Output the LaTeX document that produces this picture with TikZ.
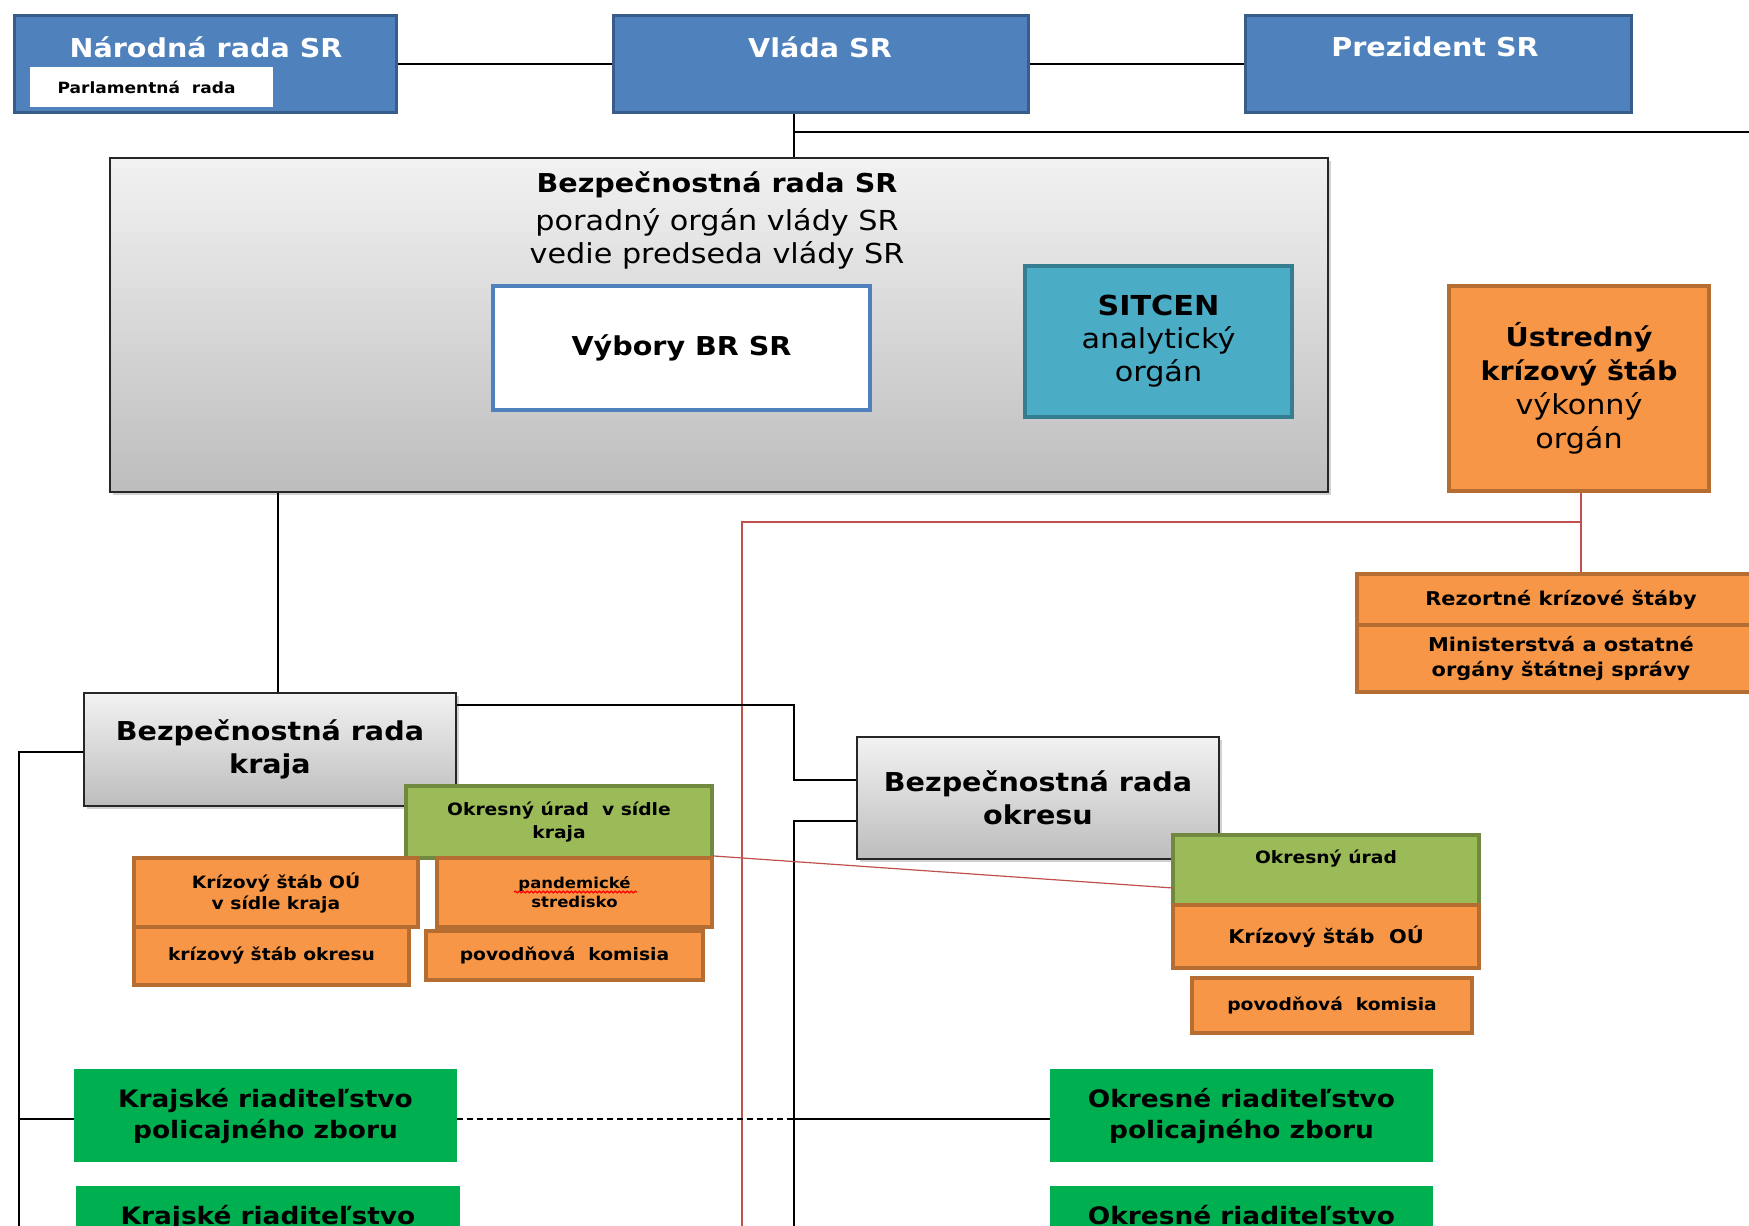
\documentclass[tikz,border=0pt]{standalone}
\usepackage{fontspec}
\setmainfont{DejaVu Sans}[FakeStretch=1.1]
\usetikzlibrary{shadows,decorations.pathmorphing}
\definecolor{blueF}{HTML}{4F81BD}
\definecolor{blueD}{HTML}{385D8A}
\definecolor{grayT}{HTML}{F2F2F2}
\definecolor{grayB}{HTML}{BDBDBD}
\definecolor{grayD}{HTML}{262626}
\definecolor{cyanF}{HTML}{4BACC6}
\definecolor{cyanD}{HTML}{357D91}
\definecolor{orngF}{HTML}{F79646}
\definecolor{orngD}{HTML}{B66D31}
\definecolor{olivF}{HTML}{9BBB59}
\definecolor{olivD}{HTML}{71893F}
\definecolor{polG}{HTML}{00B050}
\definecolor{redL}{HTML}{C0504D}
\begin{document}
\begin{tikzpicture}[x=1pt,y=-1pt,
  box/.style={rectangle, inner sep=0pt, align=center},
  bluebox/.style={box, fill=blueF, draw=blueD, line width=3pt},
  graybox/.style={box, draw=grayD, line width=2.5pt, top color=grayT, bottom color=grayB,
     drop shadow={opacity=0.35, shadow xshift=3pt, shadow yshift=-3pt}},
  orangebox/.style={box, fill=orngF, draw=orngD, line width=4pt},
  olivebox/.style={box, fill=olivF, draw=olivD, line width=4pt},
  cyanbox/.style={box, fill=cyanF, draw=cyanD, line width=4pt},
  policebox/.style={box, fill=polG},
  big/.style={font=\fontsize{27.5}{33}\selectfont},
  bigb/.style={font=\bfseries\fontsize{26}{33}\selectfont},
  small/.style={font=\bfseries\fontsize{17}{21}\selectfont},
  conn/.style={line width=2pt, black},
  redconn/.style={line width=1.5pt, redL}
]
\useasboundingbox (0,0) rectangle (1749,1226);
\clip (0,0) rectangle (1749,1226);
\fill[white] (0,0) rectangle (1749,1226);

% top row
\node[bluebox, minimum width=382pt, minimum height=97pt] (nr) at (205,64) {};
\node[text=white, bigb] (nrt) at (206,47) {Národná rada SR};
\node[box, fill=white, minimum width=243pt, minimum height=40pt] (parl) at (151.5,87) {};
\node[anchor=west, font=\bfseries\fontsize{15.5}{17}\selectfont] (parlt) at (54,87) {Parlamentná\ \ rada};
\node[bluebox, minimum width=415pt, minimum height=97pt] (vlada) at (820.5,64) {};
\node[text=white, bigb] (vladat) at (820,47) {Vláda SR};
\node[bluebox, minimum width=386pt, minimum height=97pt] (prez) at (1438,64) {};
\node[text=white, bigb] (prezt) at (1435,47) {Prezident SR};

\draw[conn] (nr.east) -- (vlada.west);
\draw[conn] (vlada.east) -- (prez.west);

% Bezpečnostná rada SR
\node[graybox, minimum width=1218pt, minimum height=334pt] (brsr) at (719,325) {};
\node[bigb] (brsrt1) at (717,185) {Bezpečnostná rada SR};
\node[big] (brsrt2) at (717,222) {poradný orgán vlády SR};
\node[big] (brsrt3) at (717,255) {vedie predseda vlády SR};
\node[box, fill=white, draw=blueF, line width=3.5pt, minimum width=377pt, minimum height=124pt, bigb] (vybory) at (681.5,348) {Výbory BR SR};
\node[cyanbox, minimum width=267pt, minimum height=151pt, big] (sitcen) at (1158.5,341) {\textbf{SITCEN}\\analytický\\orgán};

\coordinate (vx) at (794,132);
\coordinate (topright) at (1760,132);
\draw[conn] (vx |- vlada.south) -- (vx |- brsr.north);
\draw[conn] (vx) -- (topright);

% Ústredný krízový štáb
\node[orangebox, minimum width=260pt, minimum height=205pt, font=\fontsize{26}{34}\selectfont] (ustr) at (1579,388.5) {\textbf{Ústredný}\\\textbf{krízový štáb}\\{\fontsize{27.5}{34}\selectfont výkonný}\\{\fontsize{27.5}{34}\selectfont orgán}};
\node[orangebox, minimum width=408pt, minimum height=51pt, font=\bfseries\fontsize{19}{24.5}\selectfont] (rez) at (1561,599.5) {Rezortné krízové štáby};
\node[orangebox, minimum width=408pt, minimum height=67pt, font=\bfseries\fontsize{19}{24.5}\selectfont] (min) at (1561,658.5) {Ministerstvá a ostatné\\orgány štátnej správy};

% red lines
\coordinate (r1) at (1581,522);
\coordinate (r2) at (742,522);
\coordinate (r3) at (742,1240);
\draw[redconn] (ustr.south -| r1) -- (rez.north -| r1);
\draw[redconn] (r1) -- (r2) -- (r3);

% kraj level
\node[graybox, minimum width=372pt, minimum height=113pt, bigb] (brkraja) at (270,749.5) {Bezpečnostná rada\\kraja};
\coordinate (kx) at (278,0);
\draw[conn] (kx |- brsr.south) -- (kx |- brkraja.north);

\node[graybox, minimum width=362pt, minimum height=122pt, bigb] (brokresu) at (1038,798) {Bezpečnostná rada\\okresu};

\coordinate (j1) at (794,705);
\coordinate (j2) at (794,780);
\coordinate (j3) at (794,821);
\coordinate (j4) at (794,1240);
\coordinate (j5) at (794,1119);
\draw[conn] (brkraja.east |- j1) -- (j1) -- (j2) -- (j2 -| brokresu.west);
\draw[conn] (j3 -| brokresu.west) -- (j3) -- (j4);

\coordinate (l1) at (19,752);
\coordinate (l2) at (19,1240);
\coordinate (l3) at (19,1119);
\draw[conn] (l1 -| brkraja.west) -- (l1) -- (l2);

% kraj sub-boxes
\node[olivebox, minimum width=306pt, minimum height=72pt, font=\bfseries\fontsize{17}{23}\selectfont] (ouk) at (559,822) {Okresný úrad \ v sídle\\kraja};
\node[orangebox, minimum width=284pt, minimum height=69pt, small] (ksk) at (276,892.5) {Krízový štáb OÚ\\v sídle kraja};
\node[orangebox, minimum width=275pt, minimum height=58pt, small] (kso) at (271.5,956) {krízový štáb okresu};
\node[orangebox, minimum width=275pt, minimum height=69pt, font=\bfseries\fontsize{15}{19}\selectfont] (pand) at (574.5,892.5) {pandemické\\stredisko};
\node[orangebox, minimum width=277pt, minimum height=49pt, small] (pov1) at (564.5,955.5) {povodňová \ komisia};
\coordinate (sq1) at (514,892);
\coordinate (sq2) at (637,892);
\draw[red, line width=1.2pt, decorate, decoration={snake, amplitude=0.9pt, segment length=4pt}] (sq1) -- (sq2);

% okres sub-boxes
\node[olivebox, minimum width=306pt, minimum height=70pt] (oko) at (1326,870) {};
\node[small] (okot) at (1326,859) {Okresný úrad};
\node[orangebox, minimum width=306pt, minimum height=63pt, font=\bfseries\fontsize{19}{23}\selectfont] (ksoo) at (1326,936.5) {Krízový štáb \ OÚ};
\node[orangebox, minimum width=280pt, minimum height=55pt, small] (pov2) at (1332,1005.5) {povodňová \ komisia};

\coordinate (r4) at (1173,888);
\draw[redconn, line width=1.2pt] (pand.north east) -- (r4);

% police
\tikzset{policetext/.style={font=\bfseries\fontsize{24}{31}\selectfont}}
\node[policebox, minimum width=383pt, minimum height=93pt, policetext] (krp1) at (265.5,1115.5) {Krajské riaditeľstvo\\policajného zboru};
\node[policebox, minimum width=384pt, minimum height=93pt, policetext] (krp2) at (268,1232.5) {Krajské riaditeľstvo\\policajného zboru};
\node[policebox, minimum width=383pt, minimum height=93pt, policetext] (orp1) at (1241.5,1115.5) {Okresné riaditeľstvo\\policajného zboru};
\node[policebox, minimum width=383pt, minimum height=93pt, policetext] (orp2) at (1241.5,1232.5) {Okresné riaditeľstvo\\policajného zboru};

\draw[conn] (l3) -- (l3 -| krp1.west);
\draw[conn] (j5) -- (j5 -| orp1.west);
\draw[conn, dashed, dash pattern=on 6pt off 4pt] (krp1.east |- j5) -- (j5);
\end{tikzpicture}
\end{document}
